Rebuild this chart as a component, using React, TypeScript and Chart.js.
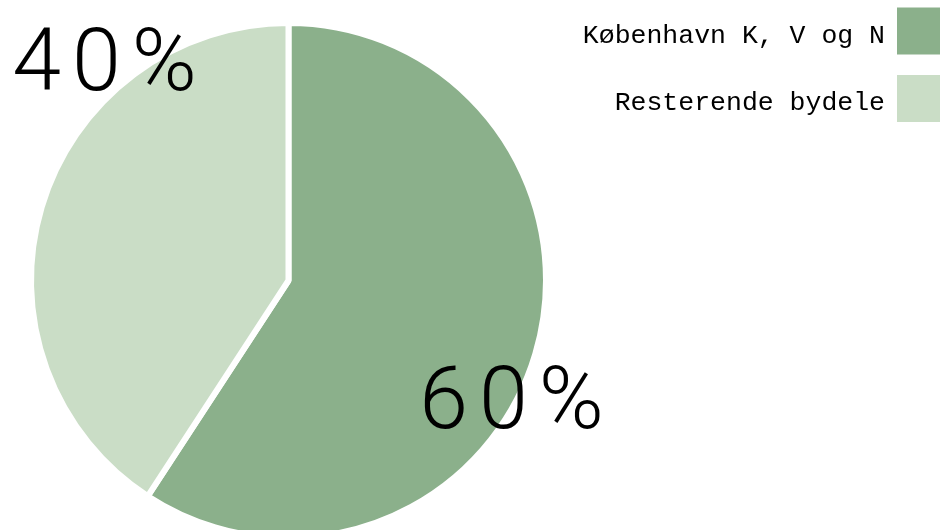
import React, { useEffect, useRef } from "react";
import { Chart, registerables } from "chart.js";

Chart.register(...registerables);

const categories = ["København K, V og N", "Resterende bydele"];
const shares = [59.2, 40.8];
const shareLabels = ["60%", "40%"];
const colors = ["#8BB08B", "#CADDC6"];

const FONT = '"Courier New", "Liberation Mono", "DejaVu Sans Mono", monospace';
const BIG_FONT = 'Roboto, "Noto Sans", sans-serif';

const customLegend = {
  id: "customLegend",
  afterDraw(chart: any) {
    const ctx = chart.ctx;
    const labels: string[] = chart.data.labels;
    const bg: string[] = chart.data.datasets[0].backgroundColor;
    const boxX = 897;
    const boxW = 47;
    const boxH = 47;
    const top = 7.5;
    const row = 67.5;
    ctx.save();
    ctx.font = `26.5px ${FONT}`;
    ctx.textAlign = "right";
    ctx.textBaseline = "alphabetic";
    labels.forEach((lab, i) => {
      const y = top + i * row;
      ctx.fillStyle = bg[i];
      ctx.fillRect(boxX, y, boxW, boxH);
      ctx.fillStyle = "#000";
      ctx.fillText(lab, boxX - 12, y + 35);
    });
    ctx.restore();
  },
};

const sliceLabels = {
  id: "sliceLabels",
  afterDraw(chart: any) {
    const meta = chart.getDatasetMeta(0);
    const ctx = chart.ctx;
    const rel = [
      [0.864, 0.573],
      [-0.7165, -0.74],
    ];
    ctx.save();
    ctx.font = `300 88px ${BIG_FONT}`;
    (ctx as any).letterSpacing = "11px";
    ctx.textAlign = "center";
    ctx.textBaseline = "alphabetic";
    ctx.fillStyle = "#000";
    meta.data.forEach((arc: any, i: number) => {
      const r = arc.outerRadius;
      ctx.fillText(shareLabels[i], arc.x + rel[i][0] * r + 6, arc.y + rel[i][1] * r);
    });
    ctx.restore();
  },
};

export default function App() {
  const ref = useRef<HTMLCanvasElement>(null);
  useEffect(() => {
    if (!ref.current) return;
    const chart = new Chart(ref.current, {
      type: "pie",
      data: {
        labels: categories,
        datasets: [
          {
            data: shares,
            backgroundColor: colors,
            borderColor: "#ffffff",
            borderWidth: 6,
            clip: false as any,
          } as any,
        ],
      },
      options: {
        responsive: false,
        animation: false,
        radius: 257.5,
        layout: { padding: { left: 0, right: 363, top: 31, bottom: 0 } },
        plugins: {
          legend: { display: false },
          tooltip: { enabled: false },
        },
        events: [],
      } as any,
      plugins: [customLegend, sliceLabels],
    });
    return () => chart.destroy();
  }, []);
  return (
    <canvas
      ref={ref}
      width={940}
      height={530}
      style={{ position: "absolute", left: 0, top: 0, display: "block" }}
    />
  );
}
